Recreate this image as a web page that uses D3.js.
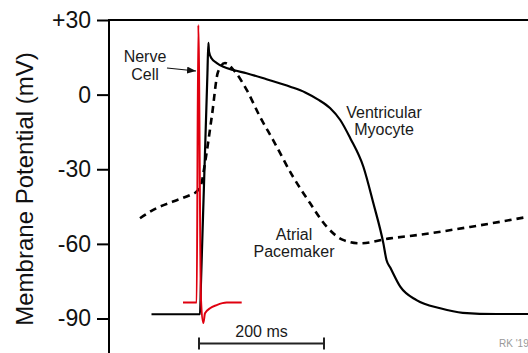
<!DOCTYPE html>
<meta charset="utf-8">
<style>
  body { margin: 0; background: #fff; }
  text { font-family: "Liberation Sans", Arial, sans-serif; }
</style>

<!-- Load d3.js -->
<script src="https://d3js.org/d3.v7.min.js"></script>

<div id="my_dataviz"></div>

<script>

// traces, time in ms and membrane potential in mV
var ventT = [-76, 1.6, 3, 13.5, 15, 16, 20, 28, 39, 55, 76, 108, 146, 170, 190, 210, 226, 242, 263, 279, 295, 300, 306, 322, 348, 386, 422, 476, 527];
var ventV = [-88.3, -88.3, -76.9, 8.6, 20.8, 17.3, 14.6, 12.8, 11.2, 9.9, 8.6, 6.2, 3.2, 0.9, -1.9, -5.5, -10.2, -17.5, -29, -43.7, -59.8, -66.5, -69.5, -77.2, -82.6, -85.9, -87.7, -88.2, -88.2];

var atrialT = [-94.4, -67.7, -41.6, -14.4, -6.4, 3.2, 9.6, 20.8, 30.4, 41.6, 57.6, 76.3, 97.6, 118.4, 150.4, 177.6, 204.3, 230.4, 257.6, 305.6, 353.6, 433.6, 526.4];
var atrialV = [-49.7, -45.6, -43.0, -40.4, -39.5, -36.3, -27.5, -8.2, 9.1, 12.7, 9.2, 1.9, -8.9, -18.2, -33, -43.6, -53.1, -58.4, -59.8, -57.8, -56.3, -53.2, -49.1];

var nerveT = [-25.6, -3.7, -1.1, 3.2, 6.9, 9.6, 17.6, 28.3, 44.3, 68.3];
var nerveV = [-83.6, -83.6, 28, -82.6, -91.8, -87.9, -85.9, -84.6, -83.6, -83.6];

var yTicks = [30, 0, -30, -60, -90];
var scaleBarMs = 200;

// set the dimensions of the graph
var width = 528, height = 353;

var svg = d3.select("#my_dataviz")
  .append("svg")
    .attr("width", width)
    .attr("height", height);

// scales
var x = d3.scaleLinear()
  .domain([0, 200])
  .range([199, 324]);
var y = d3.scaleLinear()
  .domain([-90, 30])
  .range([318.5, 20]);

var axisX = 109;

// Y axis
var yAxis = svg.append("g")
  .attr("transform", "translate(" + axisX + ",0)")
  .call(d3.axisLeft(y)
    .tickValues(yTicks)
    .tickSize(12)
    .tickPadding(6)
    .tickFormat(function(d) { return d > 0 ? "+" + d : d; }));
yAxis.select(".domain").remove();
yAxis.selectAll("line").attr("stroke", "#000").attr("stroke-width", 2);
yAxis.selectAll("text")
  .style("font-size", "23px")
  .attr("fill", "#111");

// axis line + top frame line
svg.append("line")
  .attr("x1", axisX).attr("x2", axisX)
  .attr("y1", y(30) - 1).attr("y2", height)
  .attr("stroke", "#000").attr("stroke-width", 2);
svg.append("line")
  .attr("x1", axisX).attr("x2", width)
  .attr("y1", y(30)).attr("y2", y(30))
  .attr("stroke", "#000").attr("stroke-width", 2);

svg.append("text")
  .attr("transform", "translate(33,189)rotate(-90)")
  .attr("text-anchor", "middle")
  .style("font-size", "24px")
  .attr("fill", "#111")
  .text("Membrane Potential (mV)");

// lines
var line = d3.line()
  .x(function(d) { return x(d[0]); })
  .y(function(d) { return y(d[1]); })
  .curve(d3.curveMonotoneX);

function pairs(t, v) { return t.map(function(d, i) { return [d, v[i]]; }); }

svg.append("path")
  .datum(pairs(ventT, ventV))
  .attr("d", line)
  .attr("fill", "none")
  .attr("stroke", "#000")
  .attr("stroke-width", 2.2);

svg.append("path")
  .datum(pairs(atrialT, atrialV))
  .attr("d", line)
  .attr("fill", "none")
  .attr("stroke", "#000")
  .attr("stroke-width", 2.6)
  .attr("stroke-dasharray", "7,5");

svg.append("path")
  .datum(pairs(nerveT, nerveV))
  .attr("d", line)
  .attr("fill", "none")
  .attr("stroke", "#e0000f")
  .attr("stroke-width", 2);

// labels
var labels = svg.append("g")
  .style("font-size", "16px")
  .attr("fill", "#1a1a1a")
  .attr("text-anchor", "middle");
labels.append("text").attr("x", 145).attr("y", 62).text("Nerve");
labels.append("text").attr("x", 145).attr("y", 80).text("Cell");
labels.append("text").attr("x", 384).attr("y", 118).text("Ventricular");
labels.append("text").attr("x", 384).attr("y", 135).text("Myocyte");
labels.append("text").attr("x", 294).attr("y", 240).text("Atrial");
labels.append("text").attr("x", 294).attr("y", 257).text("Pacemaker");

// arrow to the nerve trace
svg.append("defs").append("marker")
  .attr("id", "arrow")
  .attr("markerUnits", "userSpaceOnUse")
  .attr("markerWidth", 9).attr("markerHeight", 7)
  .attr("refX", 9).attr("refY", 3.5)
  .attr("orient", "auto")
  .append("path")
    .attr("d", "M0,0L9,3.5L0,7Z")
    .attr("fill", "#111");
svg.append("line")
  .attr("x1", 167).attr("y1", 68)
  .attr("x2", 196).attr("y2", 71)
  .attr("stroke", "#111")
  .attr("stroke-width", 1.2)
  .attr("marker-end", "url(#arrow)");

// scale bar
var barY = 343.5;
var bar = svg.append("g").attr("stroke", "#222").attr("stroke-width", 2);
bar.append("line").attr("x1", x(0)).attr("x2", x(scaleBarMs)).attr("y1", barY).attr("y2", barY);
bar.append("line").attr("x1", x(0)).attr("x2", x(0)).attr("y1", barY - 6).attr("y2", barY + 6);
bar.append("line").attr("x1", x(scaleBarMs)).attr("x2", x(scaleBarMs)).attr("y1", barY - 6).attr("y2", barY + 6);
svg.append("text")
  .attr("x", x(scaleBarMs / 2))
  .attr("y", 337)
  .attr("text-anchor", "middle")
  .style("font-size", "16px")
  .attr("fill", "#1a1a1a")
  .text(scaleBarMs + " ms");

svg.append("text")
  .attr("x", 499)
  .attr("y", 347)
  .style("font-size", "10px")
  .attr("fill", "#999")
  .text("RK '19");

</script>
